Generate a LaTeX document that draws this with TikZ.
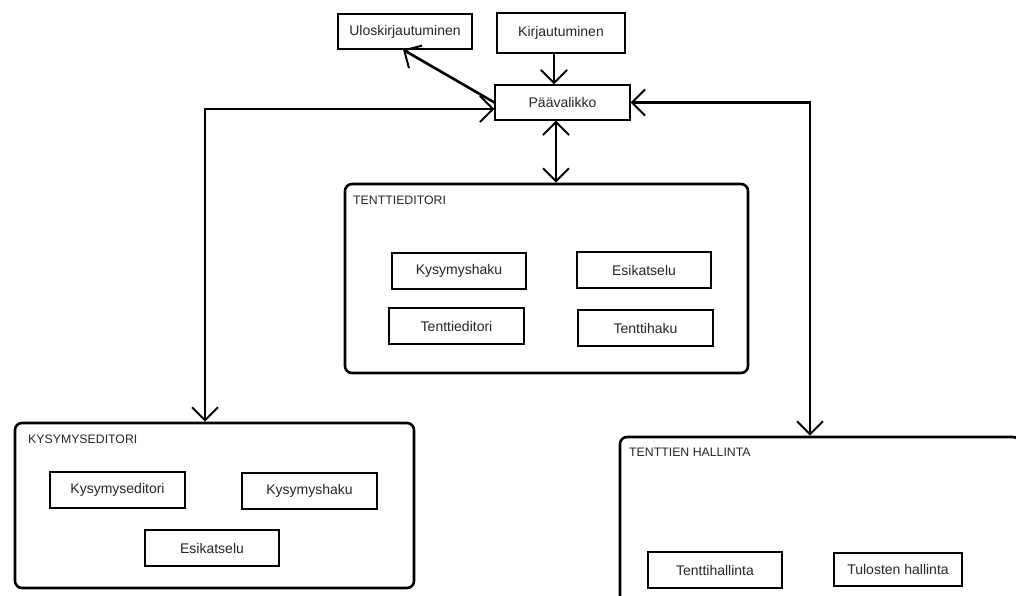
\documentclass[tikz,border=0pt]{standalone}
\usepackage{fontspec}
\setmainfont{Liberation Sans}
\usetikzlibrary{arrows.meta,calc}
\tikzset{
  item/.style={draw, line width=1.3pt, minimum width=134pt, minimum height=36pt, inner sep=0pt, text=black!85, font=\fontsize{14}{16}\selectfont},
  group/.style={draw, line width=2.6pt, rounded corners=7pt, inner sep=0pt},
  grouplabel/.style={anchor=north west, inner sep=0pt, text=black!85, font=\fontsize{12.3}{14}\selectfont},
  conn/.style={line width=2.6pt, arrows={-Straight Barb[length=13pt,width=26pt,line width=2pt]}},
  conn2/.style={line width=2.6pt, arrows={Straight Barb[length=13pt,width=26pt,line width=2pt]-Straight Barb[length=13pt,width=26pt,line width=2pt]}}
}
\begin{document}
\begin{tikzpicture}[x=1pt,y=-1pt]
\useasboundingbox (0,0) rectangle (1016,596);
\fill[white] (0,0) rectangle (1016,596);
\clip (0,0) rectangle (1016,596);

% top boxes
\node[item, minimum width=134pt, minimum height=35pt] (ulos) at (405,31.5) {Uloskirjautuminen};
\node[item, minimum width=128pt, minimum height=40pt] (kirj) at (561,33) {Kirjautuminen};
\node[item, minimum width=135pt, minimum height=35pt] (paa) at (562.5,102.5) {Päävalikko};

% TENTTIEDITORI group
\node[group, minimum width=403pt, minimum height=189pt] (tbox) at (546.5,278.5) {};
\node[grouplabel] (tlab) at (353,196) {TENTTIEDITORI};
\node[item] (tkys) at (459,271) {Kysymyshaku};
\node[item] (tesi) at (644,270) {Esikatselu};
\node[item, minimum width=135pt] (tedi) at (456.5,326) {Tenttieditori};
\node[item, minimum width=135pt] (thak) at (645.5,328) {Tenttihaku};

% KYSYMYSEDITORI group
\node[group, minimum width=399pt, minimum height=165pt] (kbox) at (214.5,505.5) {};
\node[grouplabel] (klab) at (28,435) {KYSYMYSEDITORI};
\node[item, minimum width=135pt] (kedi) at (117.5,490) {Kysymyseditori};
\node[item, minimum width=135pt] (khak) at (309.5,491) {Kysymyshaku};
\node[item] (kesi) at (212,548) {Esikatselu};

% TENTTIEN HALLINTA group (cut off by the picture's edge)
\node[group, minimum width=400pt, minimum height=190pt] (hbox) at (820,532) {};
\node[grouplabel] (hlab) at (629,448) {TENTTIEN HALLINTA};
\node[item] (hten) at (715,570) {Tenttihallinta};
\node[item, minimum width=128pt, minimum height=33pt] (htul) at (898,569.5) {Tulosten hallinta};

% connectors
\draw[conn] ([xshift=-7pt]kirj.south) -- ([xshift=-7pt]kirj.south |- paa.north);
\draw[conn] (paa.west) -- ([xshift=-2pt]ulos.south);
\draw[conn2] ([yshift=-6.5pt]paa.west) -| ([xshift=-9.5pt]kbox.north);
\draw[conn2] ([xshift=-6.5pt]paa.south) -- ([xshift=-6.5pt]paa.south |- tbox.north);
\draw[conn2] (paa.east) -| ([xshift=-10pt]hbox.north);
\end{tikzpicture}
\end{document}
